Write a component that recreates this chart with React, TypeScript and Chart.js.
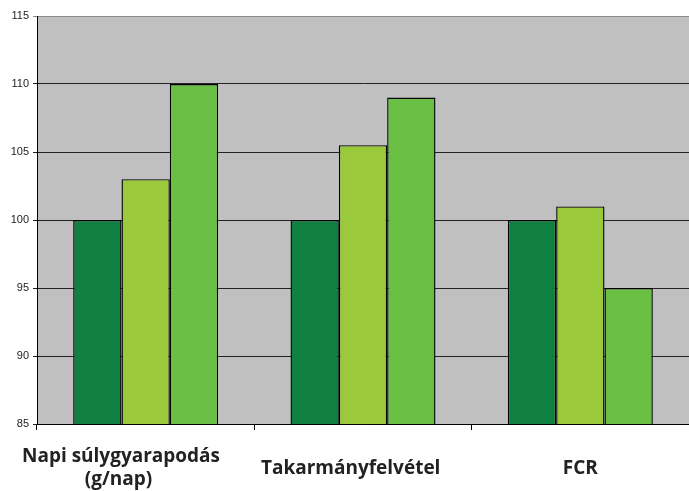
import React, { useEffect, useRef } from "react";
import { Chart, registerables } from "chart.js";

Chart.register(...registerables);

// trailing spaces reproduce the reference's slightly left-shifted label placement
const categories: (string | string[])[] = [
  ["Napi súlygyarapodás          ", "(g/nap)           "],
  "Takarmányfelvétel     ",
  "FCR",
];
const series1 = [100, 100, 100];
const series2 = [103, 105.5, 101];
const series3 = [110, 109, 95];
const yMin = 85;
const yMax = 115;
const yStep = 5;

const bgPlugin = {
  id: "plotBg",
  beforeDraw(chart: any) {
    const { ctx, chartArea } = chart;
    if (!chartArea) return;
    ctx.save();
    ctx.fillStyle = "#c0c0c0";
    ctx.fillRect(chartArea.left, chartArea.top, chartArea.right - chartArea.left, chartArea.bottom - chartArea.top);
    ctx.restore();
  },
};

export default function App() {
  const ref = useRef<HTMLCanvasElement | null>(null);
  useEffect(() => {
    document.body.style.margin = "0";
    const canvas = ref.current;
    if (!canvas) return;
    const chart = new Chart(canvas, {
      type: "bar",
      data: {
        labels: categories as any,
        datasets: [
          { label: "A", data: series1, backgroundColor: "#0f8040", borderColor: "#000", borderWidth: 1.4 },
          { label: "B", data: series2, backgroundColor: "#9bc93c", borderColor: "#000", borderWidth: 1.4 },
          { label: "C", data: series3, backgroundColor: "#6abf45", borderColor: "#000", borderWidth: 1.4 },
        ],
      },
      options: {
        responsive: false,
        animation: false,
        devicePixelRatio: 1,
        layout: { padding: { top: 16, right: 0, left: 0, bottom: 0 } },
        datasets: { bar: { categoryPercentage: 0.667, barPercentage: 1 } },
        plugins: { legend: { display: false }, tooltip: { enabled: false } },
        scales: {
          x: {
            offset: true,
            grid: { drawOnChartArea: false, offset: true, tickLength: 6, color: "#000", lineWidth: 1 },
            border: { color: "#000", width: 1 },
            ticks: {
              maxRotation: 0,
              autoSkip: false,
              crossAlign: "center",
              color: "#222",
              padding: 27,
              font: { family: "'Open Sans'", size: 19, weight: "bold", lineHeight: 1.21 },
            },
            afterFit(scale: any) {
              scale.height = 67;
              scale.paddingLeft = 0;
              scale.paddingRight = 0;
            },
          },
          y: {
            min: yMin,
            max: yMax,
            ticks: {
              stepSize: yStep,
              color: "#222",
              padding: 4,
              font: { family: "'Liberation Sans'", size: 11 },
            },
            grid: {
              tickLength: 4,
              color: (c: any) => (c.tick && c.tick.value === yMax ? "#8a8a8a" : "#222"),
              lineWidth: 1,
            },
            border: { color: "#000", width: 1 },
            afterFit(scale: any) {
              scale.width = 37;
            },
          },
        },
      } as any,
      plugins: [bgPlugin],
    });
    return () => chart.destroy();
  }, []);
  return <canvas ref={ref} width={689} height={491} style={{ display: "block" }} />;
}
